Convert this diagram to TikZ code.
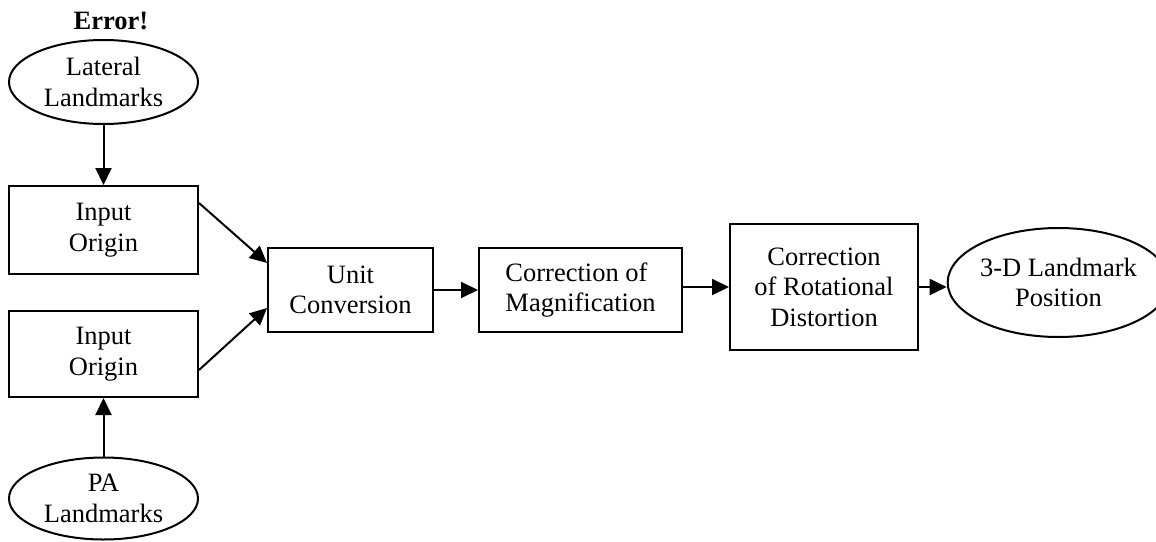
\documentclass[tikz,border=0pt]{standalone}
\usepackage{fontspec}
\setmainfont{Liberation Serif}
\usetikzlibrary{shapes.geometric,arrows.meta}

\begin{document}
\begin{tikzpicture}[x=1pt,y=-1pt,
  font=\fontsize{26.5}{30.5}\selectfont,
  every node/.style={inner sep=0pt, align=center},
  boxnode/.style={draw, line width=2pt, rectangle, minimum width=#1},
  blob/.style={draw, line width=2pt, ellipse},
  flow/.style={line width=2pt, -{Triangle[length=17pt,width=16pt]}}
]
\useasboundingbox (0,0) rectangle (1156,541);

% heading above the first input
\node[font=\fontsize{26.5}{30.5}\selectfont\bfseries] (err) at (111,21) {Error!};

% inputs
\node[blob, minimum width=189pt, minimum height=84pt] (lat) at (103.5,82) {Lateral\\Landmarks};
\node[boxnode=189pt, minimum height=88pt] (in1) at (103.5,230) {Input\\Origin};
\node[boxnode=189pt, minimum height=86pt] (in2) at (103.5,354) {Input\\Origin};
\node[blob, minimum width=189pt, minimum height=82pt] (pa) at (103.5,498.5) {PA\\Landmarks};

% processing chain
\node[boxnode=165pt, minimum height=84pt] (unit) at (350.5,290) {Unit\\Conversion};
\node[boxnode=203pt, minimum height=84pt, align=left] (mag) at (580.5,290) {Correction of\\Magnification};
\node[boxnode=188pt, minimum height=126pt] (rot) at (824,287) {Correction\\of Rotational\\Distortion};
\node[blob, minimum width=189pt, minimum height=109pt] (pos) at (1058.5,282.5) {3-D Landmark\\Position};

% connectors
\draw[flow] (lat) -- (in1);
\draw[flow] (pa) -- (in2);
\draw[flow] ([yshift=27pt]in1.east) -- ([yshift=27pt]unit.west);
\draw[flow] ([yshift=-16pt]in2.east) -- ([yshift=-18pt]unit.west);
\draw[flow] (unit) -- (mag);
\draw[flow] (mag.east |- rot.west) -- (rot.west);
\draw[flow] (rot.east) -- (rot.east -| pos.west);
\end{tikzpicture}
\end{document}
